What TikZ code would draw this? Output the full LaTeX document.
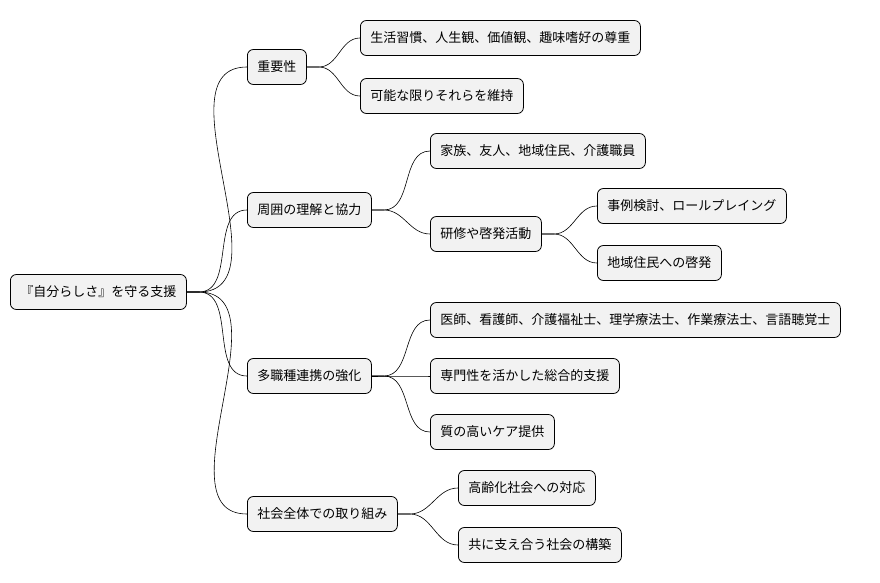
\documentclass[tikz,border=0pt]{standalone}
\usepackage{fontspec}
\setmainfont{Noto Sans CJK JP}
\tikzset{
  topic/.style={draw, rounded corners=6pt, fill=gray!10, line width=0.8pt,
    minimum height=35pt, inner xsep=10pt, anchor=west, font=\fontsize{13}{15}\selectfont},
  branch/.style={line width=0.6pt}
}
\begin{document}
\begin{tikzpicture}[x=1pt, y=-1pt]
\useasboundingbox (0,0) rectangle (880,583);

% Nodes
\node[topic] (root) at (10,292) {『自分らしさ』を守る支援};
\node[topic] (imp) at (247,67) {重要性};
\node[topic] (imp1) at (360,38) {生活習慣、人生観、価値観、趣味嗜好の尊重};
\node[topic] (imp2) at (360,96) {可能な限りそれらを維持};
\node[topic] (env) at (247,210) {周囲の理解と協力};
\node[topic] (env1) at (430,151) {家族、友人、地域住民、介護職員};
\node[topic] (env2) at (430,234) {研修や啓発活動};
\node[topic] (env21) at (597,206) {事例検討、ロールプレイング};
\node[topic] (env22) at (597,263) {地域住民への啓発};
\node[topic] (team) at (247,376) {多職種連携の強化};
\node[topic] (team1) at (430,320) {医師、看護師、介護福祉士、理学療法士、作業療法士、言語聴覚士};
\node[topic] (team2) at (430,376) {専門性を活かした総合的支援};
\node[topic] (team3) at (430,432) {質の高いケア提供};
\node[topic] (soc) at (247,514) {社会全体での取り組み};
\node[topic] (soc1) at (458,488) {高齢化社会への対応};
\node[topic] (soc2) at (458,545) {共に支え合う社会の構築};

% Branches
\foreach \p/\c in {root/imp, root/env, root/team, root/soc,
  imp/imp1, imp/imp2, env/env1, env/env2, env2/env21, env2/env22,
  team/team1, team/team2, team/team3, soc/soc1, soc/soc2}
  \draw[branch] (\p.east) -- ++(12,0) to[out=0,in=180] (\c.west);
\end{tikzpicture}
\end{document}
